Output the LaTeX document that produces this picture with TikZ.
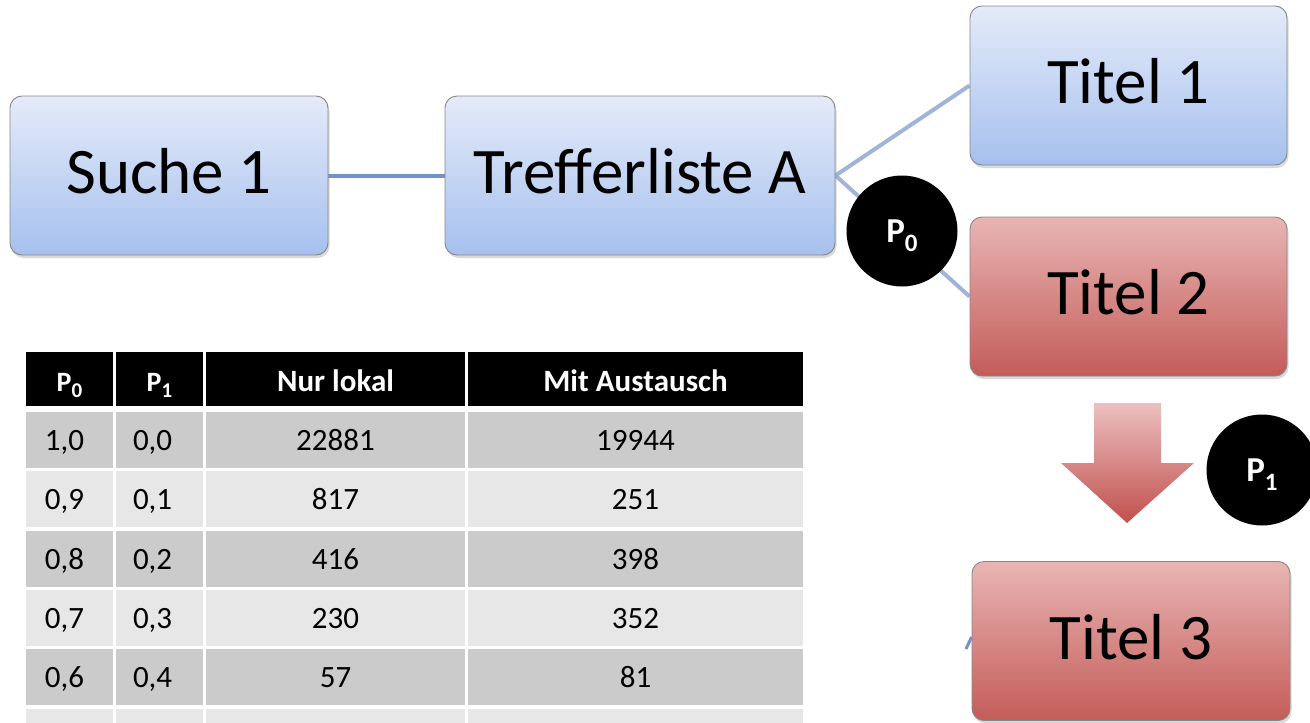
\documentclass[tikz,border=0pt]{standalone}
\usepackage{fontspec}
\setmainfont{Carlito}
\usetikzlibrary{shadows}
\pgfdeclarelayer{background}
\pgfsetlayers{background,main}
\definecolor{blueT}{RGB}{228,235,249}
\definecolor{blueB}{RGB}{166,192,238}
\definecolor{redT}{RGB}{232,181,180}
\definecolor{redM}{RGB}{222,160,158}
\definecolor{redB}{RGB}{196,92,88}
\definecolor{arrT}{RGB}{236,192,192}
\definecolor{arrB}{RGB}{192,80,77}
\definecolor{conA}{RGB}{112,146,201}
\definecolor{conB}{RGB}{160,180,218}
\definecolor{edge}{RGB}{135,135,135}
\definecolor{rowD}{RGB}{203,203,203}
\definecolor{rowL}{RGB}{231,231,231}
\newcommand{\psub}[3]{P\raisebox{-#3}{\fontsize{#2}{#2}\selectfont #1}}
\begin{document}
\begin{tikzpicture}[x=1pt,y=-1pt,
  box/.style={draw=edge, line width=0.9pt, rounded corners=12pt,
    minimum height=159pt, inner sep=0pt, text height=36pt, text depth=0pt,
    font=\fontsize{65}{70}\selectfont,
    drop shadow={shadow xshift=1.5pt,shadow yshift=-3pt,opacity=0.3}},
  bluebox/.style={box, top color=blueT, bottom color=blueB},
  redbox/.style={box, top color=redT, middle color=redM, bottom color=redB},
  conn1/.style={draw=conA, line width=4pt},
  conn2/.style={draw=conB, line width=4pt},
  pcirc/.style={circle, fill=black, minimum size=111pt, inner sep=0pt,
    text height=22pt, text depth=0pt,
    text=white, font=\fontsize{35}{38}\selectfont\bfseries},
  cell/.style={minimum height=56pt, inner sep=0pt, text height=21pt, text depth=0pt,
    font=\fontsize{31}{34}\selectfont},
  hcell/.style={cell, fill=black, text=white, minimum height=54pt,
    text height=24pt, text depth=0pt,
    font=\fontsize{31}{34}\selectfont\bfseries},
  c1/.style={minimum width=87pt, text width=49pt, inner xsep=19pt, align=left},
  c2/.style={minimum width=87pt, text width=53pt, inner xsep=17pt, align=left},
  c3/.style={minimum width=259pt},
  c4/.style={minimum width=335pt},
]
\useasboundingbox (0,0) rectangle (1310,723);

% boxes
\node[bluebox, minimum width=318pt] (s1) at (169,175.5) {Suche 1};
\node[bluebox, minimum width=390pt] (ta) at (640,175.5) {Trefferliste A};
\node[bluebox, minimum width=317pt] (t1) at (1128.5,85.5) {Titel 1};
\node[redbox, minimum width=317pt] (t2) at (1128.5,296.5) {Titel 2};
\node[redbox, minimum width=318pt] (t3) at (1131,641) {Titel 3};
\coordinate (stub) at (966,649);

% connectors (behind boxes)
\begin{pgfonlayer}{background}
\draw[conn1] (s1.east) -- (ta.west);
\draw[conn2] (ta.east) -- (t1.west);
\draw[conn2] (ta.east) -- (t2.west);
\draw[conn2, draw=conA, line width=3pt] (stub) -- ([yshift=4pt]t3.west);
\end{pgfonlayer}

\node[pcirc] (p0) at (902,231) {\psub{0}{25pt}{9pt}};

% arrow
\shade[top color=arrT, bottom color=arrB]
  (1094,403) -- (1161,403) -- (1161,463) -- (1194,463) -- (1127,523)
  -- (1061,463) -- (1094,463) -- cycle;
\node[pcirc] (p1) at (1262,470) {\psub{1}{25pt}{9pt}};

% table header
\node[hcell, minimum width=87pt, font=\fontsize{28}{30}\selectfont\bfseries] (h1) at (69.5,379) {\psub{0}{21pt}{6pt}};
\node[hcell, minimum width=87pt, font=\fontsize{28}{30}\selectfont\bfseries] (h2) at (159.5,379) {\psub{1}{21pt}{6pt}};
\node[hcell, c3] (h3) at (335.5,379) {Nur lokal};
\node[hcell, c4] (h4) at (635.5,379) {Mit Austausch};

% table body
\foreach \i/\y/\a/\b/\c/\d/\f in {
  1/440/{1,0}/{0,0}/22881/19944/rowD,
  2/499/{0,9}/{0,1}/817/251/rowL,
  3/559/{0,8}/{0,2}/416/398/rowD,
  4/618/{0,7}/{0,3}/230/352/rowL,
  5/677/{0,6}/{0,4}/57/81/rowD}{
  \node[cell, c1, fill=\f] (r\i a) at (69.5,\y) {\a};
  \node[cell, c2, fill=\f] (r\i b) at (159.5,\y) {\b};
  \node[cell, c3, fill=\f] (r\i c) at (335.5,\y) {\c};
  \node[cell, c4, fill=\f] (r\i d) at (635.5,\y) {\d};
}
\fill[rowL] (26,709) rectangle (113,723);
\fill[rowL] (116,709) rectangle (203,723);
\fill[rowL] (206,709) rectangle (465,723);
\fill[rowL] (468,709) rectangle (803,723);
\end{tikzpicture}
\end{document}
